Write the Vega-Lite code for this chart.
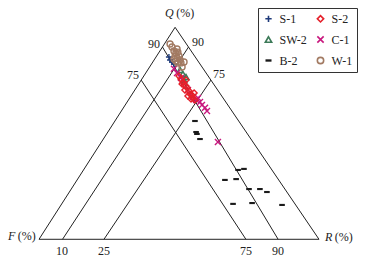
{
  "$schema": "https://vega.github.io/schema/vega-lite/v6.json",
  "width": 365,
  "height": 261,
  "autosize": "none",
  "padding": 0,
  "background": "white",
  "config": {
    "view": {"stroke": null},
    "legend": {
      "title": null,
      "orient": "top-right",
      "offset": 8,
      "columns": 2,
      "direction": "horizontal",
      "strokeColor": "#333333",
      "padding": 4.5,
      "rowPadding": 7,
      "columnPadding": 6,
      "symbolSize": 40,
      "symbolStrokeWidth": 1.6,
      "labelFont": "Liberation Serif",
      "labelFontSize": 12,
      "labelColor": "#222222",
      "labelOffset": 5
    }
  },
  "datasets": {
    "lines": [
      {"x": 0, "y": 0, "x2": 100, "y2": 0},
      {"x": 0, "y": 0, "x2": 48.6, "y2": 100},
      {"x": 100, "y": 0, "x2": 48.6, "y2": 100},
      {"x": 44.1, "y": 90.7, "x2": 85.4, "y2": 0},
      {"x": 53.4, "y": 90.7, "x2": 8.4, "y2": 0},
      {"x": 36.5, "y": 75.1, "x2": 73.9, "y2": 0},
      {"x": 61.4, "y": 75.1, "x2": 23.2, "y2": 0}
    ],
    "labels": [
      {"x": 8.2, "y": -5.5, "t": "10"},
      {"x": 23.2, "y": -5.5, "t": "25"},
      {"x": 73.9, "y": -5.5, "t": "75"},
      {"x": 85.4, "y": -5.5, "t": "90"},
      {"x": 41.1, "y": 92.1, "t": "90"},
      {"x": 56.8, "y": 93.1, "t": "90"},
      {"x": 33.6, "y": 77.5, "t": "75"},
      {"x": 64.3, "y": 78.0, "t": "75"}
    ],
    "axisnames": [
      {"x": 45.0, "y": 106.7, "t": "Q", "p": "(%)", "px": 49.0},
      {"x": -11.1, "y": 1.56, "t": "F", "p": "(%)", "px": -7.6},
      {"x": 102.1, "y": 1.1, "t": "R", "p": "(%)", "px": 105.6}
    ],
    "pts": [
      {"g": "B-2", "x": 55.7, "y": 55.8},
      {"g": "B-2", "x": 56.1, "y": 50.6},
      {"g": "B-2", "x": 56.4, "y": 49.7},
      {"g": "B-2", "x": 57.5, "y": 47.3},
      {"g": "B-2", "x": 71.1, "y": 32.7},
      {"g": "B-2", "x": 73.2, "y": 33.2},
      {"g": "B-2", "x": 66.4, "y": 28.0},
      {"g": "B-2", "x": 70.4, "y": 28.4},
      {"g": "B-2", "x": 75.0, "y": 23.7},
      {"g": "B-2", "x": 78.9, "y": 23.7},
      {"g": "B-2", "x": 81.4, "y": 22.3},
      {"g": "B-2", "x": 69.3, "y": 16.7},
      {"g": "B-2", "x": 76.1, "y": 17.1},
      {"g": "B-2", "x": 86.8, "y": 16.2},
      {"g": "S-1", "x": 46.4, "y": 86.0},
      {"g": "S-1", "x": 46.8, "y": 84.6},
      {"g": "S-1", "x": 47.5, "y": 83.6},
      {"g": "S-1", "x": 48.2, "y": 82.7},
      {"g": "SW-2", "x": 50.4, "y": 79.9},
      {"g": "SW-2", "x": 51.4, "y": 78.0},
      {"g": "SW-2", "x": 52.5, "y": 76.6},
      {"g": "SW-2", "x": 51.8, "y": 75.1},
      {"g": "C-1", "x": 48.2, "y": 80.5},
      {"g": "C-1", "x": 49.3, "y": 78.4},
      {"g": "C-1", "x": 50.7, "y": 76.1},
      {"g": "C-1", "x": 53.2, "y": 70.4},
      {"g": "C-1", "x": 55.0, "y": 67.1},
      {"g": "C-1", "x": 56.8, "y": 66.6},
      {"g": "C-1", "x": 57.5, "y": 64.8},
      {"g": "C-1", "x": 58.2, "y": 63.4},
      {"g": "C-1", "x": 59.3, "y": 62.0},
      {"g": "C-1", "x": 60.0, "y": 60.5},
      {"g": "C-1", "x": 56.1, "y": 65.7},
      {"g": "C-1", "x": 63.9, "y": 45.9},
      {"g": "S-2", "x": 50.0, "y": 77.0},
      {"g": "S-2", "x": 50.7, "y": 75.6},
      {"g": "S-2", "x": 51.4, "y": 74.2},
      {"g": "S-2", "x": 51.8, "y": 72.8},
      {"g": "S-2", "x": 52.5, "y": 72.3},
      {"g": "S-2", "x": 52.9, "y": 71.4},
      {"g": "S-2", "x": 52.1, "y": 70.4},
      {"g": "S-2", "x": 53.6, "y": 70.0},
      {"g": "S-2", "x": 53.9, "y": 68.5},
      {"g": "S-2", "x": 54.6, "y": 68.1},
      {"g": "S-2", "x": 53.2, "y": 67.6},
      {"g": "S-2", "x": 55.0, "y": 66.6},
      {"g": "S-2", "x": 55.7, "y": 65.7},
      {"g": "S-2", "x": 54.3, "y": 66.2},
      {"g": "S-2", "x": 51.1, "y": 73.3},
      {"g": "S-2", "x": 52.5, "y": 75.1},
      {"g": "S-2", "x": 55.4, "y": 69.0},
      {"g": "W-1", "x": 46.8, "y": 92.1},
      {"g": "W-1", "x": 47.5, "y": 90.7},
      {"g": "W-1", "x": 48.2, "y": 88.8},
      {"g": "W-1", "x": 48.9, "y": 87.9},
      {"g": "W-1", "x": 49.6, "y": 88.3},
      {"g": "W-1", "x": 48.6, "y": 86.5},
      {"g": "W-1", "x": 49.3, "y": 85.5},
      {"g": "W-1", "x": 50.0, "y": 86.5},
      {"g": "W-1", "x": 50.4, "y": 84.6},
      {"g": "W-1", "x": 48.9, "y": 84.1},
      {"g": "W-1", "x": 49.6, "y": 83.2},
      {"g": "W-1", "x": 50.7, "y": 83.2},
      {"g": "W-1", "x": 51.8, "y": 83.6},
      {"g": "W-1", "x": 51.1, "y": 81.3},
      {"g": "W-1", "x": 48.2, "y": 85.0},
      {"g": "W-1", "x": 49.3, "y": 89.8}
    ]
  },
  "layer": [
    {
      "data": {"name": "lines"},
      "mark": {"type": "rule", "color": "#222222", "strokeWidth": 1},
      "encoding": {
        "x": {"field": "x", "type": "quantitative", "scale": {"domain": [-13.93, 116.43], "nice": false, "zero": false}, "axis": null},
        "y": {"field": "y", "type": "quantitative", "scale": {"domain": [-10.24, 112.88], "nice": false, "zero": false}, "axis": null},
        "x2": {"field": "x2"},
        "y2": {"field": "y2"}
      }
    },
    {
      "data": {"name": "labels"},
      "mark": {"type": "text", "font": "Liberation Serif", "fontSize": 12, "color": "#222222", "align": "center", "baseline": "middle"},
      "encoding": {
        "x": {"field": "x", "type": "quantitative"},
        "y": {"field": "y", "type": "quantitative"},
        "text": {"field": "t"}
      }
    },
    {
      "data": {"name": "axisnames"},
      "mark": {"type": "text", "font": "Liberation Serif", "fontSize": 12, "fontStyle": "italic", "color": "#222222", "align": "left", "baseline": "middle"},
      "encoding": {
        "x": {"field": "x", "type": "quantitative"},
        "y": {"field": "y", "type": "quantitative"},
        "text": {"field": "t"}
      }
    },
    {
      "data": {"name": "axisnames"},
      "mark": {"type": "text", "font": "Liberation Serif", "fontSize": 12, "color": "#222222", "align": "left", "baseline": "middle"},
      "encoding": {
        "x": {"field": "px", "type": "quantitative"},
        "y": {"field": "y", "type": "quantitative"},
        "text": {"field": "p"}
      }
    },
    {
      "data": {"name": "pts"},
      "mark": {"type": "point", "filled": false, "strokeWidth": 1.4, "size": 36, "opacity": 1},
      "encoding": {
        "x": {"field": "x", "type": "quantitative"},
        "y": {"field": "y", "type": "quantitative"},
        "shape": {
          "field": "g", "type": "nominal",
          "scale": {
            "domain": ["S-1", "S-2", "SW-2", "C-1", "B-2", "W-1"],
            "range": ["M-1,0L1,0M0,-1L0,1", "diamond", "triangle-up", "M-1,-1L1,1M-1,1L1,-1", "M-0.7,-0.12L0.7,-0.12L0.7,0.12L-0.7,0.12Z", "circle"]
          }
        },
        "color": {
          "field": "g", "type": "nominal",
          "scale": {
            "domain": ["S-1", "S-2", "SW-2", "C-1", "B-2", "W-1"],
            "range": ["#1f3b7a", "#e5202a", "#3c7a58", "#c8187e", "#1a1a1a", "#a27a62"]
          }
        }
      }
    }
  ]
}
